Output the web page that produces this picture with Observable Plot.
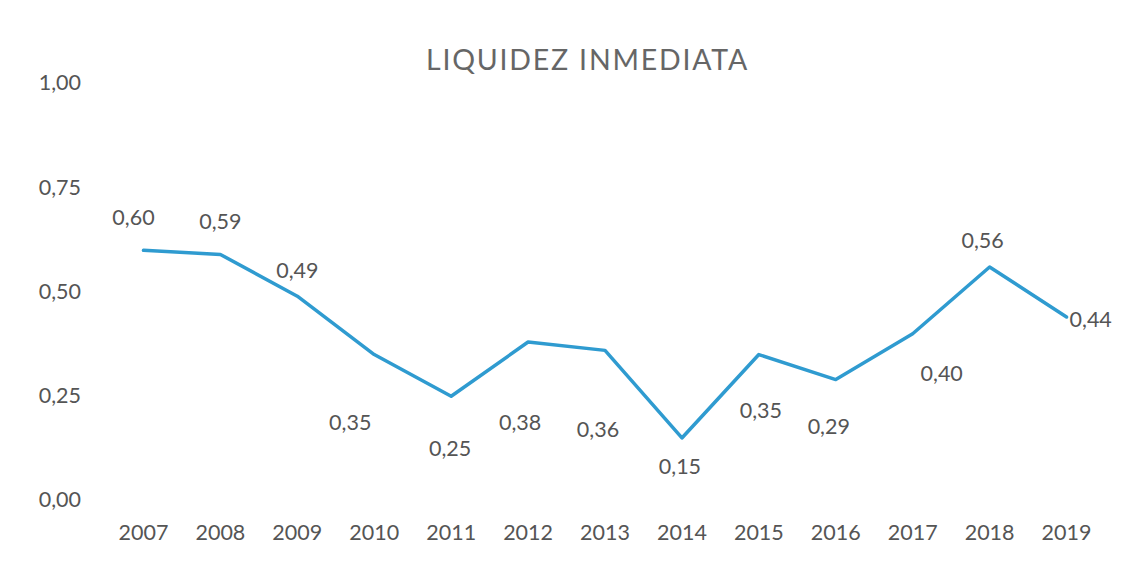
<!DOCTYPE html>
<html>
<head>
<meta charset="utf-8">
<script src="https://cdn.jsdelivr.net/npm/d3@7"></script>
<script src="https://cdn.jsdelivr.net/npm/@observablehq/plot@0.6"></script>
<style>
  html, body { margin: 0; padding: 0; background: #fff; }
  #wrap { position: relative; width: 1121px; height: 574px; }
  #title { position: absolute; left: 27px; width: 1121px; top: 42px; text-align: center;
           font-family: Lato, "Open Sans", sans-serif; font-size: 28.5px; color: #666; letter-spacing: 1.8px; }
</style>
</head>
<body>
<div id="wrap"><div id="title">LIQUIDEZ INMEDIATA</div><div id="chart"></div></div>
<script>
const years = ["2007","2008","2009","2010","2011","2012","2013","2014","2015","2016","2017","2018","2019"];
const values = [0.60, 0.59, 0.49, 0.35, 0.25, 0.38, 0.36, 0.15, 0.35, 0.29, 0.40, 0.56, 0.44];
const yTicks = [0, 0.25, 0.5, 0.75, 1.0];
// label offsets (layout only) in pixels: [dx, dy, anchor]
const labelOffsets = [[-10,-32,"middle"],[0,-32,"middle"],[0,-25,"middle"],[-24,69,"middle"],[-1,53,"middle"],[-8,81,"middle"],[-7,80,"middle"],[-2,29,"middle"],[2,57,"middle"],[-7,48,"middle"],[29,40,"middle"],[-7,-26,"middle"],[3,3,"start"]];

const fmt = v => d3.format(".2f")(v).replace(".", ",");
const data = years.map((y, i) => ({year: y, value: values[i]}));
const font = "Lato, 'Open Sans', sans-serif";

const labelMarks = data.map((d, i) => Plot.text([d], {
  x: "year", y: "value", text: r => fmt(r.value),
  dx: labelOffsets[i][0], dy: labelOffsets[i][1], textAnchor: labelOffsets[i][2],
  fill: "#555", fontSize: 21.5
}));

const chart = Plot.plot({
  width: 1121, height: 574,
  marginLeft: 104.5, marginRight: 16.5, marginTop: 83, marginBottom: 74,
  style: {fontFamily: font, background: "transparent", color: "#555"},
  x: {type: "point", domain: years, padding: 0.5, round: false, label: null},
  y: {domain: [0, 1], label: null},
  marks: [
    Plot.axisY({ticks: yTicks, tickFormat: fmt, tickSize: 0, tickPadding: 24, fontSize: 21.5, fill: "#555"}),
    Plot.axisX({tickSize: 0, tickPadding: 24, fontSize: 21.5, fill: "#555"}),
    Plot.line(data, {x: "year", y: "value", stroke: "#2f9bd0", strokeWidth: 3.5, strokeLinejoin: "round"}),
    ...labelMarks
  ]
});
document.getElementById("chart").appendChild(chart);
</script>
</body>
</html>
